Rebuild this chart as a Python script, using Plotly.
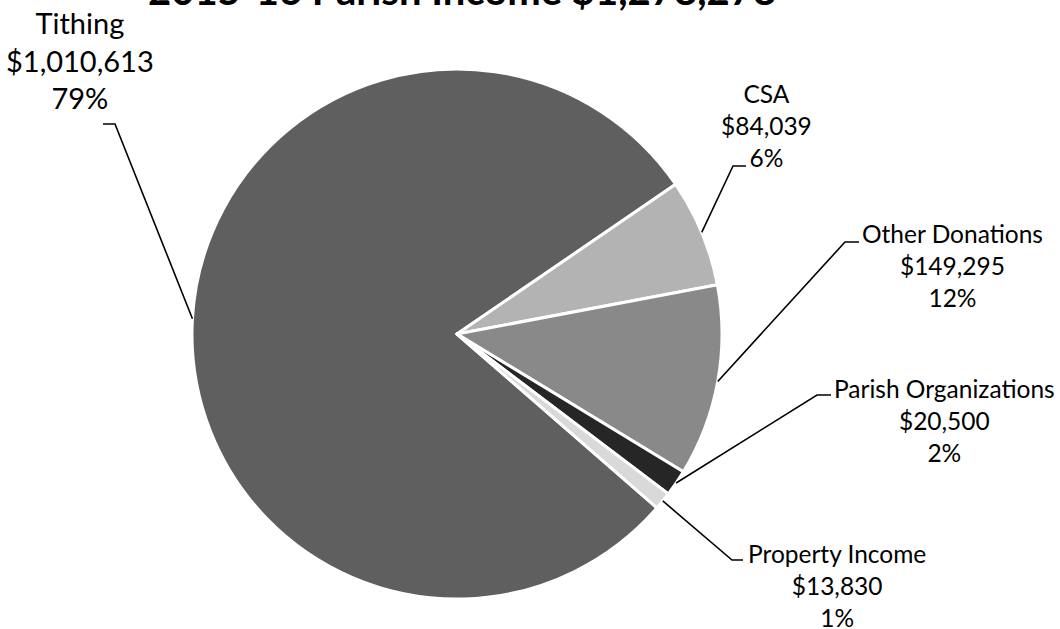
import math
import plotly.graph_objects as go

# ---- data ----
categories = ["Tithing", "CSA", "Other Donations", "Parish Organizations", "Property Income"]
values = [1010613, 84039, 149295, 20500, 13830]
percent_labels = ["79%", "6%", "12%", "2%", "1%"]
title_text = "2015-16 Parish Income $1,278,278"

# ---- styles / layout ----
colors = ["#5f5f5f", "#b3b3b3", "#898989", "#262626", "#d9d9d9"]
W, H = 1060, 629
CX, CY, R = 457, 334, 265
ROTATION = 131  # degrees clockwise from 12 o'clock where the first slice starts
FONT = "Lato"

# label placement (pixel positions: elbow point, horizontal end, text centre)
elbows = [(115, 124), (733, 166), (845, 242), (817, 395), (732, 560)]
ends = [(103, 124), (746, 166), (859, 242), (831, 395), (743, 560)]
text_centres = [(80, 60), (766, 126), (952, 265), (944, 420), (837, 585)]
text_sizes = [29, 24.5, 24.5, 24.5, 24.5]


def px(x):
    return x / W


def py(y):
    return 1 - y / H


fig = go.Figure()
fig.add_trace(go.Pie(
    labels=categories,
    values=values,
    sort=False,
    direction="clockwise",
    rotation=ROTATION,
    marker=dict(colors=colors, line=dict(color="white", width=3)),
    textinfo="none",
    hoverinfo="label+value+percent",
    showlegend=False,
    domain=dict(x=[px(CX - R), px(CX + R)], y=[py(CY + R), py(CY - R)]),
))

total = sum(values)
cum = 0.0
shapes = []
annotations = []
for i, (cat, v) in enumerate(zip(categories, values)):
    mid = ROTATION + (cum + v / 2) / total * 360
    cum += v
    a = math.radians(mid)
    ax = CX + R * math.sin(a)
    ay = CY - R * math.cos(a)
    ex, ey = elbows[i]
    hx, hy = ends[i]
    shapes.append(dict(
        type="path", xref="paper", yref="paper",
        path=f"M {px(ax)} {py(ay)} L {px(ex)} {py(ey)} L {px(hx)} {py(hy)}",
        line=dict(color="black", width=1.6),
    ))
    tx, ty = text_centres[i]
    annotations.append(dict(
        x=px(tx), y=py(ty), xref="paper", yref="paper",
        text=f"{cat}<br>${v:,}<br>{percent_labels[i]}",
        showarrow=False, align="center", xanchor="center", yanchor="middle",
        font=dict(family=FONT, size=text_sizes[i], color="black"),
    ))

annotations.append(dict(
    x=px(462), y=py(16), xref="paper", yref="paper",
    text=f"<b>{title_text}</b>", showarrow=False,
    xanchor="center", yanchor="bottom",
    font=dict(family=FONT, size=40, color="black"),
))

fig.update_layout(
    width=W, height=H,
    margin=dict(l=0, r=0, t=0, b=0),
    paper_bgcolor="white", plot_bgcolor="white",
    shapes=shapes, annotations=annotations,
)
fig.write_html("out.html", config={"displayModeBar": False},
               post_script="document.body.style.margin='0';")
